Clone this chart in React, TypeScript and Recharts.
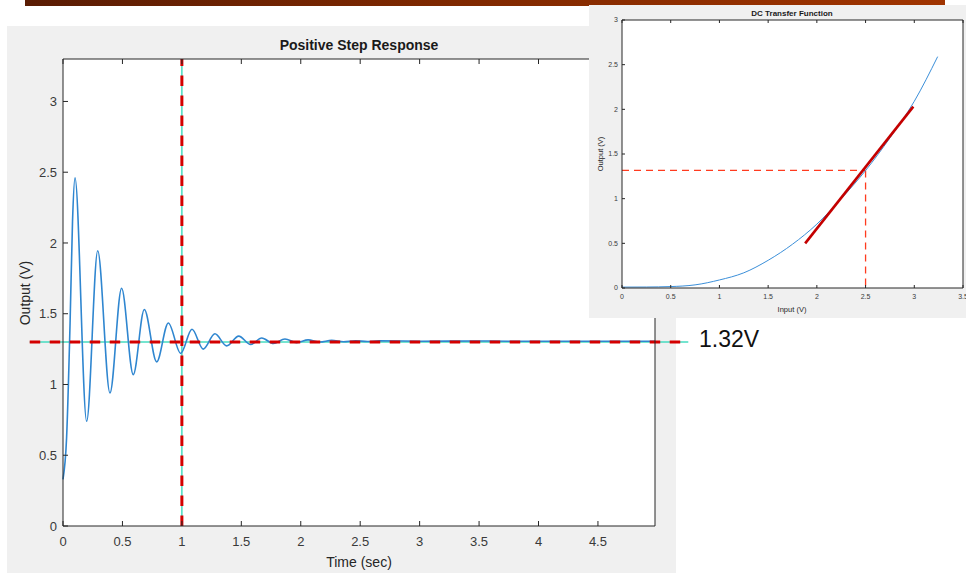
import { LineChart, Line, XAxis, YAxis, ReferenceLine, CartesianGrid } from 'recharts';

// step response (peaks and troughs)
const stepTime = [0, 0.03, 0.06, 0.08, 0.101, 0.199, 0.292, 0.395, 0.493, 0.591, 0.684, 0.788, 0.886, 0.99, 1.085, 1.18, 1.278, 1.377, 1.478, 1.578, 1.672, 1.77, 1.867, 1.965, 2.062, 2.16, 2.26, 2.36, 2.46, 2.56, 2.66, 3.0, 3.5, 4.0, 4.5, 4.98];
const stepOutput = [0.33, 0.62, 1.45, 2.15, 2.46, 0.74, 1.945, 0.94, 1.68, 1.07, 1.53, 1.16, 1.435, 1.22, 1.39, 1.25, 1.358, 1.273, 1.342, 1.283, 1.328, 1.29, 1.321, 1.296, 1.315, 1.3, 1.312, 1.302, 1.309, 1.304, 1.308, 1.306, 1.307, 1.305, 1.306, 1.306];
const timeTicks = [0, 0.5, 1, 1.5, 2, 2.5, 3, 3.5, 4, 4.5];
const outputTicks = [0, 0.5, 1, 1.5, 2, 2.5, 3];
const timeDomain = [0, 4.98];
const outputDomain = [0, 3.3];
const settleLevel = 1.3;
const settleSpan = [-0.28, 5.26];
const markTime = 1;

// DC transfer curve
const dcInput = [0, 0.25, 0.5, 0.75, 1, 1.25, 1.5, 1.75, 2, 2.25, 2.5, 2.75, 3, 3.24];
const dcOutput = [0.01, 0.011, 0.016, 0.035, 0.09, 0.17, 0.31, 0.49, 0.715, 1.0, 1.315, 1.68, 2.09, 2.59];
const dcInputTicks = [0, 0.5, 1, 1.5, 2, 2.5, 3, 3.5];
const dcOutputTicks = [0, 0.5, 1, 1.5, 2, 2.5, 3];
const tangentInput = [1.88, 2.99];
const tangentOutput = [0.5, 2.03];
const operatingInput = 2.5;
const operatingOutput = 1.316;

const font = '"Liberation Sans", Arial, Helvetica, sans-serif';
const axisInk = '#262626';
const tickInk = '#3a3a3a';
const teal = '#46dcc0';
const red = '#d40000';
const noLabel = () => '';

export default function App() {
  const stepData = stepTime.map((t, i) => ({ t, v: stepOutput[i] }));
  const dcData = dcInput.map((x, i) => ({ x, y: dcOutput[i] }));

  return (
    <div style={{ position: 'absolute', left: 0, top: 0, width: 966, height: 573, overflow: 'hidden', background: '#fff', fontFamily: font }}>
      <style>{'.step-fig .recharts-surface{overflow:visible}'}</style>
      <div style={{ position: 'absolute', left: 25, top: 0, width: 920, height: 6, background: 'linear-gradient(to right, #5a1c04, #7e2800 45%, #a03400)' }} />

      {/* main figure */}
      <div className="step-fig" style={{ position: 'absolute', left: 7, top: 26, width: 669, height: 547, background: '#f0f0f0' }}>
        <LineChart width={669} height={547} data={stepData} margin={{ top: 32, right: 20, bottom: 17, left: 6 }}>
          <CartesianGrid fill="#ffffff" stroke="none" horizontal={false} vertical={false} />
          <XAxis dataKey="t" type="number" domain={timeDomain} ticks={timeTicks} interval={0} height={30}
            tickSize={-5} tickMargin={16} stroke={axisInk} tick={{ fill: tickInk, fontSize: 13, fontFamily: font }} />
          <XAxis xAxisId="top" orientation="top" dataKey="t" type="number" domain={timeDomain} ticks={timeTicks} interval={0}
            height={1} tickSize={-5} stroke={axisInk} tickFormatter={noLabel} />
          <YAxis type="number" domain={outputDomain} ticks={outputTicks} interval={0} width={50}
            tickSize={-5} tickMargin={11} stroke={axisInk} tick={{ fill: tickInk, fontSize: 13, fontFamily: font }} />
          <YAxis yAxisId="right" orientation="right" type="number" domain={outputDomain} ticks={outputTicks} interval={0}
            width={1} tickSize={-5} stroke={axisInk} tickFormatter={noLabel} />
          <ReferenceLine x={markTime} stroke={teal} strokeWidth={1.5} />
          <ReferenceLine segment={[{ x: settleSpan[0], y: settleLevel }, { x: settleSpan[1], y: settleLevel }]}
            ifOverflow="visible" stroke={teal} strokeWidth={1.5} />
          <Line dataKey="v" type="monotone" stroke="#2f86d0" strokeWidth={1.6} dot={false} isAnimationActive={false} />
          <ReferenceLine x={markTime} stroke={red} strokeWidth={3} strokeDasharray="10.5 9.5" />
          <ReferenceLine segment={[{ x: settleSpan[0], y: settleLevel }, { x: settleSpan[1], y: settleLevel }]}
            ifOverflow="visible" stroke={red} strokeWidth={3} strokeDasharray="10.5 9.5" />
        </LineChart>
        <div style={{ position: 'absolute', left: 352, top: 19, transform: 'translate(-50%,-50%)', fontSize: 14, fontWeight: 'bold', color: '#1a1a1a', whiteSpace: 'nowrap' }}>
          Positive Step Response
        </div>
        <div style={{ position: 'absolute', left: 352, top: 536, transform: 'translate(-50%,-50%)', fontSize: 14, color: axisInk, whiteSpace: 'nowrap' }}>
          Time (sec)
        </div>
        <div style={{ position: 'absolute', left: 18, top: 267, transform: 'translate(-50%,-50%) rotate(-90deg)', fontSize: 14, color: axisInk, whiteSpace: 'nowrap' }}>
          Output (V)
        </div>
      </div>

      <div style={{ position: 'absolute', left: 699, top: 339, transform: 'translateY(-50%)', fontSize: 23, color: '#111', whiteSpace: 'nowrap' }}>
        1.32V
      </div>

      {/* inset: DC transfer function */}
      <div style={{ position: 'absolute', left: 589, top: 5, width: 377, height: 313, background: '#f0f0f0' }}>
        <LineChart width={377} height={313} data={dcData} margin={{ top: 14, right: 2, bottom: 12, left: 5 }}>
          <CartesianGrid fill="#ffffff" stroke="none" horizontal={false} vertical={false} />
          <XAxis dataKey="x" type="number" domain={[0, 3.5]} ticks={dcInputTicks} interval={0} height={18}
            tickSize={-3} tickMargin={9} stroke={axisInk} tick={{ fill: tickInk, fontSize: 7, fontFamily: font }} />
          <XAxis xAxisId="top" orientation="top" dataKey="x" type="number" domain={[0, 3.5]} ticks={dcInputTicks} interval={0}
            height={1} tickSize={-3} stroke={axisInk} tickFormatter={noLabel} />
          <YAxis type="number" domain={[0, 3]} ticks={dcOutputTicks} interval={0} width={28}
            tickSize={-3} tickMargin={7} stroke={axisInk} tick={{ fill: tickInk, fontSize: 7, fontFamily: font }} />
          <YAxis yAxisId="right" orientation="right" type="number" domain={[0, 3]} ticks={dcOutputTicks} interval={0}
            width={1} tickSize={-3} stroke={axisInk} tickFormatter={noLabel} />
          <ReferenceLine segment={[{ x: 0, y: operatingOutput }, { x: operatingInput, y: operatingOutput }]}
            stroke="#ff3b1f" strokeWidth={1.3} strokeDasharray="7 5" />
          <ReferenceLine segment={[{ x: operatingInput, y: operatingOutput }, { x: operatingInput, y: 0 }]}
            stroke="#ff3b1f" strokeWidth={1.3} strokeDasharray="7 5" />
          <Line dataKey="y" type="monotone" stroke="#3b8fd9" strokeWidth={1} dot={false} isAnimationActive={false} />
          <ReferenceLine segment={[{ x: tangentInput[0], y: tangentOutput[0] }, { x: tangentInput[1], y: tangentOutput[1] }]}
            stroke="#c40000" strokeWidth={2.6} />
        </LineChart>
        <div style={{ position: 'absolute', left: 203, top: 8, transform: 'translate(-50%,-50%)', fontSize: 8, fontWeight: 'bold', color: '#1a1a1a', whiteSpace: 'nowrap' }}>
          DC Transfer Function
        </div>
        <div style={{ position: 'absolute', left: 203, top: 304, transform: 'translate(-50%,-50%)', fontSize: 7.5, color: axisInk, whiteSpace: 'nowrap' }}>
          Input (V)
        </div>
        <div style={{ position: 'absolute', left: 11, top: 149, transform: 'translate(-50%,-50%) rotate(-90deg)', fontSize: 7.5, color: axisInk, whiteSpace: 'nowrap' }}>
          Output (V)
        </div>
      </div>
    </div>
  );
}
